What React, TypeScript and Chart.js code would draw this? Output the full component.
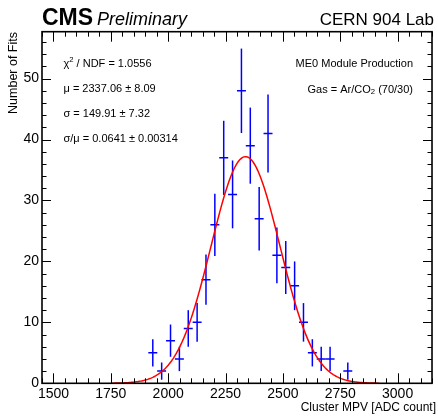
import React, { useEffect, useRef } from "react";
import { Chart, registerables } from "chart.js";

Chart.register(...registerables);

// ---- data ----
const BIN_CENTERS = [
  1932.95, 1971.59, 2010.23, 2048.86, 2087.5, 2126.14, 2164.77, 2203.41,
  2242.05, 2280.68, 2319.32, 2357.95, 2396.59, 2435.23, 2473.86, 2512.5,
  2551.14, 2589.77, 2628.41, 2667.05, 2705.68, 2744.32, 2782.95,
];
const COUNTS = [5, 2, 7, 4, 9, 10, 17, 26, 37, 31, 48, 39, 27, 41, 21, 19, 16, 10, 5, 4, 4, 0, 2];
const BIN_WIDTH = 38.636;

const X_TICKS = [1500, 1750, 2000, 2250, 2500, 2750, 3000];
const Y_TICKS = [0, 10, 20, 30, 40, 50];
const X_MIN = 1450;
const X_MAX = 3150;
const Y_MIN = 0;
const Y_MAX = 57.7;

// Gaussian fit parameters (as printed in the chart; amplitude read from peak)
const FIT_MU = 2337.06;
const FIT_SIGMA = 149.91;
const FIT_AMP = 37.2;
const FIT_RANGE = [1750, 2920];

const STAT_LINES: { t: string; s?: "sup" | "sub" }[][] = [
  [{ t: "χ" }, { t: "2", s: "sup" }, { t: " / NDF = 1.0556" }],
  [{ t: "μ = 2337.06 ± 8.09" }],
  [{ t: "σ = 149.91 ± 7.32" }],
  [{ t: "σ/μ = 0.0641 ± 0.00314" }],
];
const RIGHT_LINES: { t: string; s?: "sup" | "sub" }[][] = [
  [{ t: "ME0 Module Production" }],
  [{ t: "Gas = Ar/CO" }, { t: "2", s: "sub" }, { t: " (70/30)" }],
];

const FONT = '"Liberation Sans", Arial, Helvetica, sans-serif';
const BLUE = "#0000ff";
const RED = "#ff0000";

function fitCurve() {
  const pts: { x: number; y: number }[] = [];
  for (let x = FIT_RANGE[0]; x <= FIT_RANGE[1]; x += 5) {
    const z = (x - FIT_MU) / FIT_SIGMA;
    pts.push({ x, y: FIT_AMP * Math.exp(-0.5 * z * z) });
  }
  return pts;
}

function drawRich(
  ctx: CanvasRenderingContext2D,
  segs: { t: string; s?: "sup" | "sub" }[],
  x: number,
  y: number,
  size: number,
  align: "left" | "right"
) {
  const fontFor = (s?: string) => `${s ? size * 0.7 : size}px ${FONT}`;
  let total = 0;
  for (const sg of segs) {
    ctx.font = fontFor(sg.s);
    total += ctx.measureText(sg.t).width;
  }
  let cx = align === "left" ? x : x - total;
  ctx.textAlign = "left";
  ctx.textBaseline = "middle";
  for (const sg of segs) {
    ctx.font = fontFor(sg.s);
    const dy = sg.s === "sup" ? -size * 0.38 : sg.s === "sub" ? size * 0.25 : 0;
    ctx.fillText(sg.t, cx, y + dy);
    cx += ctx.measureText(sg.t).width;
  }
}

const errorBarsPlugin = {
  id: "errorBars",
  beforeDatasetsDraw(chart: any) {
    const { ctx, scales } = chart;
    const x = scales.x;
    const y = scales.y;
    ctx.save();
    ctx.strokeStyle = BLUE;
    ctx.lineWidth = 1.5;
    COUNTS.forEach((n, i) => {
      if (n <= 0) return;
      const px = x.getPixelForValue(BIN_CENTERS[i]);
      const e = Math.sqrt(n);
      ctx.beginPath();
      ctx.moveTo(px, y.getPixelForValue(Math.max(0, n - e)));
      ctx.lineTo(px, y.getPixelForValue(n + e));
      ctx.stroke();
    });
    ctx.restore();
  },
};

const framePlugin = {
  id: "rootFrame",
  afterDraw(chart: any) {
    const { ctx, chartArea, scales } = chart;
    const x = scales.x;
    const y = scales.y;
    const { left, right, top, bottom } = chartArea;
    ctx.save();
    ctx.strokeStyle = "#000";
    ctx.lineWidth = 1;
    // ticks
    ctx.beginPath();
    for (let v = X_MIN; v <= X_MAX + 0.01; v += 50) {
      const px = Math.round(x.getPixelForValue(v)) + 0.5;
      const major = X_TICKS.includes(v);
      const len = major ? 10 : 5;
      ctx.moveTo(px, bottom);
      ctx.lineTo(px, bottom - len);
      ctx.moveTo(px, top);
      ctx.lineTo(px, top + len);
    }
    for (let v = Y_MIN; v <= Y_MAX; v += 2) {
      const py = Math.round(y.getPixelForValue(v)) + 0.5;
      const major = Y_TICKS.includes(v);
      const len = major ? 9 : 4.5;
      ctx.moveTo(left, py);
      ctx.lineTo(left + len, py);
      ctx.moveTo(right, py);
      ctx.lineTo(right - len, py);
    }
    ctx.stroke();
    // frame
    ctx.lineWidth = 1.6;
    ctx.strokeRect(left, top, right - left, bottom - top);

    ctx.fillStyle = "#000";
    // header
    ctx.textBaseline = "alphabetic";
    ctx.textAlign = "left";
    ctx.font = `bold 23px ${FONT}`;
    ctx.fillText("CMS", 42, 25);
    ctx.font = `italic 18px ${FONT}`;
    ctx.fillText("Preliminary", 97, 25);
    ctx.textAlign = "right";
    ctx.font = `17px ${FONT}`;
    ctx.fillText("CERN 904 Lab", 434, 25);

    // stats box text
    STAT_LINES.forEach((segs, i) => drawRich(ctx, segs, 63.5, 64 + i * 25, 11, "left"));
    RIGHT_LINES.forEach((segs, i) => drawRich(ctx, segs, 413, 64 + i * 25.5, 11, "right"));

    // axis titles
    ctx.font = `12px ${FONT}`;
    ctx.textAlign = "right";
    ctx.textBaseline = "middle";
    ctx.fillText("Cluster MPV [ADC count]", 436, 407.5);
    ctx.save();
    ctx.translate(14, 32);
    ctx.rotate(-Math.PI / 2);
    ctx.font = `12.5px ${FONT}`;
    ctx.textAlign = "right";
    ctx.fillText("Number of Fits", 0, 0);
    ctx.restore();
    ctx.restore();
  },
};

export default function App() {
  const ref = useRef<HTMLCanvasElement | null>(null);
  useEffect(() => {
    if (!ref.current) return;
    const pointData = COUNTS.map((n, i) => ({ x: BIN_CENTERS[i], y: n })).filter((p) => p.y > 0);
    const chart = new Chart(ref.current, {
      type: "scatter",
      data: {
        datasets: [
          {
            type: "line",
            label: "fit",
            data: fitCurve(),
            borderColor: RED,
            borderWidth: 1.5,
            pointRadius: 0,
            tension: 0,
            fill: false,
          } as any,
          {
            type: "scatter",
            label: "data",
            data: pointData,
            pointStyle: "line",
            pointRadius: BIN_WIDTH / 2 / ((X_MAX - X_MIN) / 395),
            pointBorderWidth: 1.5,
            borderColor: BLUE,
            backgroundColor: BLUE,
            showLine: false,
          } as any,
        ],
      },
      options: {
        responsive: false,
        animation: false,
        devicePixelRatio: 1,
        layout: { padding: { top: 31.7, right: 1, left: 0, bottom: 0 } },
        plugins: { legend: { display: false }, tooltip: { enabled: false } },
        scales: {
          x: {
            type: "linear",
            min: X_MIN,
            max: X_MAX,
            grid: { display: false, drawTicks: false },
            border: { display: false },
            ticks: {
              color: "#000",
              font: { family: FONT, size: 14 },
              padding: 2,
              autoSkip: false,
              maxRotation: 0,
              callback: (v: any) => String(v),
            },
            afterBuildTicks: (s: any) => {
              s.ticks = X_TICKS.map((v) => ({ value: v }));
            },
            afterFit: (s: any) => {
              s.height = 416 - 383.3;
            },
          },
          y: {
            type: "linear",
            min: Y_MIN,
            max: Y_MAX,
            grid: { display: false, drawTicks: false },
            border: { display: false },
            ticks: {
              color: "#000",
              font: { family: FONT, size: 14 },
              padding: 3,
              autoSkip: false,
              callback: (v: any) => String(v),
            },
            afterBuildTicks: (s: any) => {
              s.ticks = Y_TICKS.map((v) => ({ value: v }));
            },
            afterFit: (s: any) => {
              s.width = 42;
            },
          },
        },
      },
      plugins: [errorBarsPlugin, framePlugin],
    } as any);
    return () => chart.destroy();
  }, []);
  return (
    <div style={{ position: "absolute", left: 0, top: 0, width: 438, height: 416, background: "#fff" }}>
      <canvas ref={ref} width={438} height={416} style={{ display: "block" }} />
    </div>
  );
}
